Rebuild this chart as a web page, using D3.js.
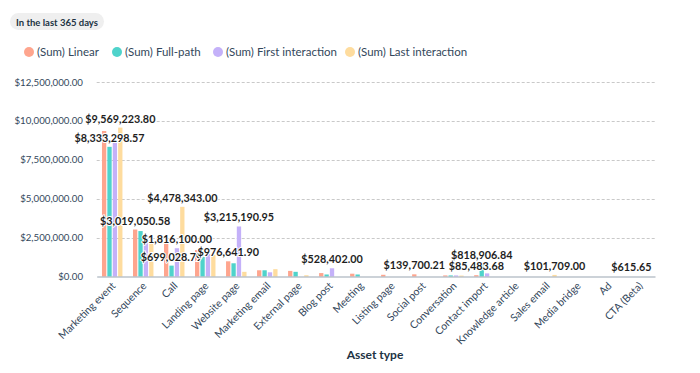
<!DOCTYPE html>
<html>
  <head>
    <meta charset="utf-8">
    <title>Asset type</title>
    <script type="text/javascript" src="https://d3js.org/d3.v7.min.js"></script>
    <style>
      body { margin: 0; background: #fff; }
      text { font-family: Lato, "Noto Sans", sans-serif; }
    </style>
  </head>
  <body>
    <script type="text/javascript">
    var w = 700;
    var h = 373;

    var categories = ["Marketing event", "Sequence", "Call", "Landing page", "Website page",
      "Marketing email", "External page", "Blog post", "Meeting", "Listing page", "Social post",
      "Conversation", "Contact import", "Knowledge article", "Sales email", "Media bridge",
      "Ad", "CTA (Beta)"];
    var seriesNames = ["(Sum) Linear", "(Sum) Full-path", "(Sum) First interaction", "(Sum) Last interaction"];
    var colors = ["#fea58e", "#4fd3cb", "#c4b1f9", "#fedc9e"];

    // one array per series, in category order
    var linear = [9350000, 3019050.58, 2130000, 1700000, 976641.90, 400000, 360000, 220000,
      180000, 110000, 139700.21, 70000, 85483.68, 0, 0, 0, 0, 615.65];
    var fullPath = [8333298.57, 2920000, 699028.79, 1370000, 850000, 400000, 300000, 130000,
      130000, 0, 0, 70000, 818906.84, 0, 0, 0, 0, 0];
    var firstInteraction = [8680000, 2430000, 1816100.00, 1450000, 3215190.95, 270000, 0, 528402.00,
      0, 0, 0, 70000, 200000, 0, 0, 0, 0, 0];
    var lastInteraction = [9569223.80, 2130000, 4478343.00, 1400000, 300000, 470000, 80000, 0,
      0, 0, 0, 60000, 0, 0, 101709.00, 0, 0, 0];

    var yTicks = [0, 2500000, 5000000, 7500000, 10000000, 12500000];

    // data labels shown on the chart: [category, series index]
    var labelled = [
      ["Marketing event", 3], ["Marketing event", 1], ["Sequence", 0],
      ["Call", 3], ["Call", 2], ["Call", 1],
      ["Website page", 2], ["Website page", 0], ["Blog post", 2],
      ["Social post", 0], ["Contact import", 1], ["Contact import", 0],
      ["Sales email", 3], ["CTA (Beta)", 0]
    ];

    var seriesValues = [linear, fullPath, firstInteraction, lastInteraction];

    var svg = d3.select("body").append("svg")
                .attr("width", w)
                .attr("height", h);

    // badge
    svg.append("rect")
       .attr("x", 10).attr("y", 13)
       .attr("width", 94).attr("height", 17)
       .attr("rx", 8.5)
       .attr("fill", "#efefef");
    svg.append("text")
       .attr("x", 57).attr("y", 25.5)
       .attr("text-anchor", "middle")
       .attr("font-size", "9.5px")
       .attr("font-weight", "bold")
       .attr("fill", "#213343")
       .text("In the last 365 days");

    // legend
    var legendX = [29, 117, 218, 350];
    var legend = svg.selectAll("g.legend")
       .data(seriesNames)
       .enter()
       .append("g")
       .attr("class", "legend")
       .attr("transform", function(d, i){ return "translate(" + legendX[i] + ",52)"; });
    legend.append("circle")
       .attr("r", 5)
       .attr("fill", function(d, i){ return colors[i]; });
    legend.append("text")
       .attr("x", 8).attr("y", 4.2)
       .attr("font-size", "11.5px")
       .attr("fill", "#33475b")
       .text(function(d){ return d; });

    var xScale = d3.scaleBand()
                   .domain(categories)
                   .range([96.7, 655])
                   .paddingInner(0.34)
                   .paddingOuter(0.17);
    var xSub = d3.scaleBand()
                 .domain(d3.range(seriesNames.length))
                 .range([0, xScale.bandwidth()])
                 .paddingInner(0.2);
    var yScale = d3.scaleLinear()
                   .domain([0, 12500000])
                   .range([276.5, 82]);

    var money = function(v){ return "$" + d3.format(",.2f")(v); };

    // grid
    svg.selectAll("line.grid")
       .data(yTicks.slice(1))
       .enter()
       .append("line")
       .attr("x1", 96.7).attr("x2", 655)
       .attr("y1", function(d){ return Math.round(yScale(d)) + 0.5; })
       .attr("y2", function(d){ return Math.round(yScale(d)) + 0.5; })
       .attr("stroke", "#c9c9c9")
       .attr("stroke-dasharray", "3,2");

    svg.selectAll("text.ytick")
       .data(yTicks)
       .enter()
       .append("text")
       .attr("class", "ytick")
       .attr("x", 83)
       .attr("y", function(d){ return yScale(d) + 3.5; })
       .attr("text-anchor", "end")
       .attr("font-size", "9.7px")
       .attr("fill", "#33475b")
       .text(money);

    // bars
    var groups = svg.selectAll("g.cat")
       .data(categories)
       .enter()
       .append("g")
       .attr("transform", function(d){ return "translate(" + xScale(d) + ",0)"; });
    groups.selectAll("rect")
       .data(function(d, ci){
          return seriesValues.map(function(s, si){ return {s: si, v: s[ci]}; });
        })
       .enter()
       .append("rect")
       .attr("x", function(d){ return xSub(d.s); })
       .attr("width", xSub.bandwidth())
       .attr("y", function(d){ return yScale(d.v); })
       .attr("height", function(d){ return yScale(0) - yScale(d.v); })
       .attr("fill", function(d){ return colors[d.s]; });

    // x axis
    var xAxis = svg.append("g")
       .attr("transform", "translate(0," + yScale(0) + ")")
       .call(d3.axisBottom(xScale).tickSize(0).tickPadding(0));
    xAxis.select(".domain").attr("stroke", "#9aa5b1").attr("stroke-width", 1.2);
    xAxis.selectAll(".tick text")
       .attr("font-family", "Lato, sans-serif")
       .attr("font-size", "10.5px")
       .attr("fill", "#33475b")
       .attr("text-anchor", "end")
       .attr("dy", 0)
       .attr("transform", "translate(4,10) rotate(-45)");

    // data labels
    svg.selectAll("text.dlabel")
       .data(labelled)
       .enter()
       .append("text")
       .attr("class", "dlabel")
       .attr("x", function(d){ return xScale(d[0]) + xSub(d[1]) + xSub.bandwidth() / 2; })
       .attr("y", function(d){
          var v = seriesValues[d[1]][categories.indexOf(d[0])];
          return yScale(v) - 5;
        })
       .attr("text-anchor", "middle")
       .attr("font-size", "10.8px")
       .attr("font-weight", "bold")
       .attr("fill", "#1f1f1f")
       .attr("stroke", "#fff")
       .attr("stroke-width", 2)
       .attr("paint-order", "stroke")
       .text(function(d){ return money(seriesValues[d[1]][categories.indexOf(d[0])]); });

    svg.append("text")
       .attr("x", 375).attr("y", 359)
       .attr("text-anchor", "middle")
       .attr("font-size", "12px")
       .attr("font-weight", "bold")
       .attr("fill", "#213343")
       .text("Asset type");
    </script>
  </body>
</html>
